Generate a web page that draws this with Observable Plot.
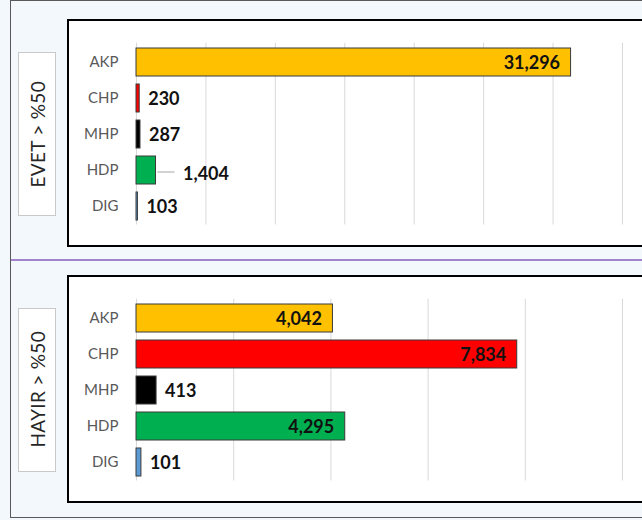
<!DOCTYPE html>
<html>
<head>
<meta charset="utf-8">
<script src="https://cdn.jsdelivr.net/npm/d3@7"></script>
<script src="https://cdn.jsdelivr.net/npm/@observablehq/plot@0.6"></script>
<style>
  html, body { margin: 0; padding: 0; background: #fff; }
  #root { position: relative; width: 642px; height: 520px; overflow: hidden; background: #f3f8fd; font-family: Lato, "Open Sans", sans-serif; }
  .outer { position: absolute; left: 10px; top: 0; width: 700px; height: 518px; border: 1.5px solid #595959; border-right: none; box-sizing: border-box; }
  .divider { position: absolute; left: 11px; top: 259px; width: 700px; height: 2px; background: #a383c9; }
  .box { position: absolute; left: 67px; width: 700px; height: 228px; border: 2px solid #000; border-right: none; background: #fff; box-sizing: border-box; }
  .tag { position: absolute; left: 18px; width: 38px; height: 164px; border: 1px solid #c9c9c9; background: #fff; box-sizing: border-box; display: flex; align-items: center; justify-content: center; }
  .tag span { writing-mode: vertical-rl; transform: rotate(180deg); font-size: 19px; color: #262626; white-space: nowrap; letter-spacing: 0.3px; }
  .plot { position: absolute; left: 0; }
</style>
</head>
<body>
<div id="root">
  <div class="outer"></div>
  <div class="divider"></div>
</div>
<script>
// ---- data ----
const parties = ["AKP", "CHP", "MHP", "HDP", "DIG"];
const partyColors = ["#FFC000", "#FF0000", "#000000", "#00B050", "#5B9BD5"];
const panelTitles = ["EVET > %50", "HAYIR > %50"];
const evetValues = [31296, 230, 287, 1404, 103];
const hayirValues = [4042, 7834, 413, 4295, 101];
const evetGrid = [0, 5000, 10000, 15000, 20000, 25000, 30000, 35000];
const hayirGrid = [0, 2000, 4000, 6000, 8000, 10000];

// ---- panels ----
const panels = [
  {title: panelTitles[0], values: evetValues, grid: evetGrid, offset: 0, leader: "HDP"},
  {title: panelTitles[1], values: hayirValues, grid: hayirGrid, offset: 255.5, leader: null}
];

const root = document.getElementById("root");
const fmt = d3.format(",");

for (const p of panels) {
  const box = document.createElement("div");
  box.className = "box";
  box.style.top = (19 + p.offset) + "px";
  root.appendChild(box);

  const tag = document.createElement("div");
  tag.className = "tag";
  tag.style.top = (52 + p.offset) + "px";
  const span = document.createElement("span");
  span.textContent = p.title;
  tag.appendChild(span);
  root.appendChild(tag);

  const data = parties.map((party, i) => ({party, value: p.values[i], color: partyColors[i]}));
  const max = p.grid[p.grid.length - 1];
  const inside = data.filter(d => d.value / max > 0.12);
  const outside = data.filter(d => d.value / max <= 0.12 && d.party !== p.leader);
  const leader = data.filter(d => d.party === p.leader);

  const chart = Plot.plot({
    width: 642,
    height: 247,
    marginLeft: 136,
    marginRight: 20,
    marginTop: 42.7,
    marginBottom: 22.5,
    style: {background: "transparent", fontFamily: "Lato, 'Open Sans', sans-serif", color: "#595959", overflow: "visible"},
    x: {domain: [0, max], axis: null},
    y: {domain: parties, paddingInner: 0.22, paddingOuter: 0.1, axis: null},
    color: {type: "identity"},
    marks: [
      Plot.ruleX(p.grid, {x: d => d, stroke: "#d9d9d9", strokeWidth: 1}),
      Plot.axisY({tickSize: 0, tickPadding: 18, fontSize: 15, label: null, fill: "#595959"}),
      Plot.barX(data, {x: "value", y: "party", fill: "color", stroke: "#3a3a3a", strokeWidth: 1}),
      Plot.text(inside, {x: "value", y: "party", text: d => fmt(d.value), textAnchor: "end", dx: -11, dy: 0.5, fontSize: 18, fontWeight: "bold", fill: "#111"}),
      Plot.text(outside, {x: "value", y: "party", text: d => fmt(d.value), textAnchor: "start", dx: 8.5, dy: 0.5, fontSize: 18, fontWeight: "bold", fill: "#111"}),
      Plot.ruleY(leader, {x1: "value", x2: "value", y: "party", insetLeft: 2, insetRight: -19, dy: 1.5, stroke: "#a6a6a6", strokeWidth: 1}),
      Plot.text(leader, {x: "value", y: "party", text: d => fmt(d.value), textAnchor: "start", dx: 27, dy: 3.5, fontSize: 18, fontWeight: "bold", fill: "#111"})
    ]
  });
  chart.classList.add("plot");
  chart.style.top = p.offset + "px";
  root.appendChild(chart);
}
</script>
</body>
</html>
